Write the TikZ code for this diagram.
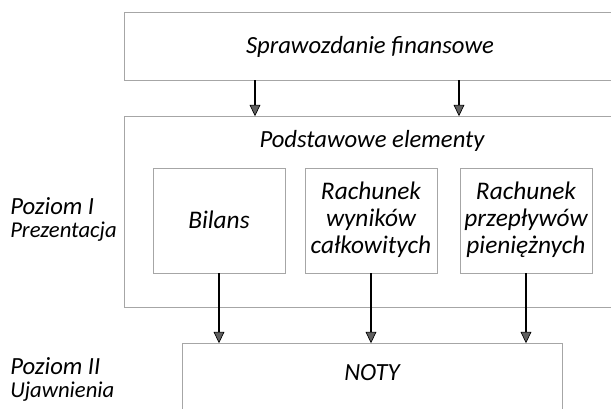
\documentclass[tikz,border=0pt]{standalone}
\usepackage{fontspec}
\setmainfont{Carlito}
\usetikzlibrary{arrows.meta}
\begin{document}
\begin{tikzpicture}[x=0.75pt,y=-0.75pt,
  box/.style={draw=gray!70,line width=0.6pt,inner sep=0pt,fill=none},
  lbl/.style={font=\fontsize{18.5}{22}\selectfont\itshape,inner sep=0pt},
  inlbl/.style={font=\fontsize{19}{20.3}\selectfont\itshape,inner sep=0pt,align=center},
  side/.style={font=\fontsize{18.5}{20}\selectfont\itshape,inner sep=0pt,anchor=base west},
  sidesmall/.style={font=\fontsize{17}{18}\selectfont\itshape,inner sep=0pt,anchor=base west},
  arr/.style={line width=1.1pt,-{Triangle[width=8pt,length=8.5pt,fill=gray!75!black,line width=0.5pt]},shorten >=-0.5pt}]
\useasboundingbox (0,0) rectangle (611,409);
\clip (0,0) rectangle (611,409);
% boxes
\node[box,minimum width=491*0.75pt,minimum height=68*0.75pt] (top) at (369.5,46) {};
\node[lbl] (toptxt) at (370,47) {Sprawozdanie finansowe};
\node[box,minimum width=491*0.75pt,minimum height=191*0.75pt] (outer) at (369.5,211.5) {};
\node[lbl] (outtxt) at (372,141) {Podstawowe elementy};
\node[box,minimum width=132*0.75pt,minimum height=105*0.75pt] (b1) at (219,220.5) {};
\node[box,minimum width=132*0.75pt,minimum height=105*0.75pt] (b2) at (371,220.5) {};
\node[box,minimum width=132*0.75pt,minimum height=105*0.75pt] (b3) at (526,220.5) {};
\node[inlbl] (t1) at (219,220) {Bilans};
\node[inlbl] (t2) at (371,220) {Rachunek\\wyników\\całkowitych};
\node[inlbl] (t3) at (526,220) {Rachunek\\przepływów\\pieniężnych};
\node[box,minimum width=380*0.75pt,minimum height=90*0.75pt] (noty) at (372,388) {};
\node[lbl] (notytxt) at (372,373) {NOTY};
% side labels
\node[side] (p1) at (10,215) {Poziom I};
\node[sidesmall] (p1s) at (10,238) {Prezentacja};
\node[side] (p2) at (10,375) {Poziom II};
\node[sidesmall] (p2s) at (10,398) {Ujawnienia};
% arrows
\coordinate (c1) at (255,0);
\coordinate (c2) at (459,0);
\draw[arr] (top.south -| c1) -- (outer.north -| c1);
\draw[arr] (top.south -| c2) -- (outer.north -| c2);
\draw[arr] (b1.south) -- (b1.south |- noty.north);
\draw[arr] (b2.south) -- (b2.south |- noty.north);
\draw[arr] (b3.south) -- (b3.south |- noty.north);
\end{tikzpicture}
\end{document}
